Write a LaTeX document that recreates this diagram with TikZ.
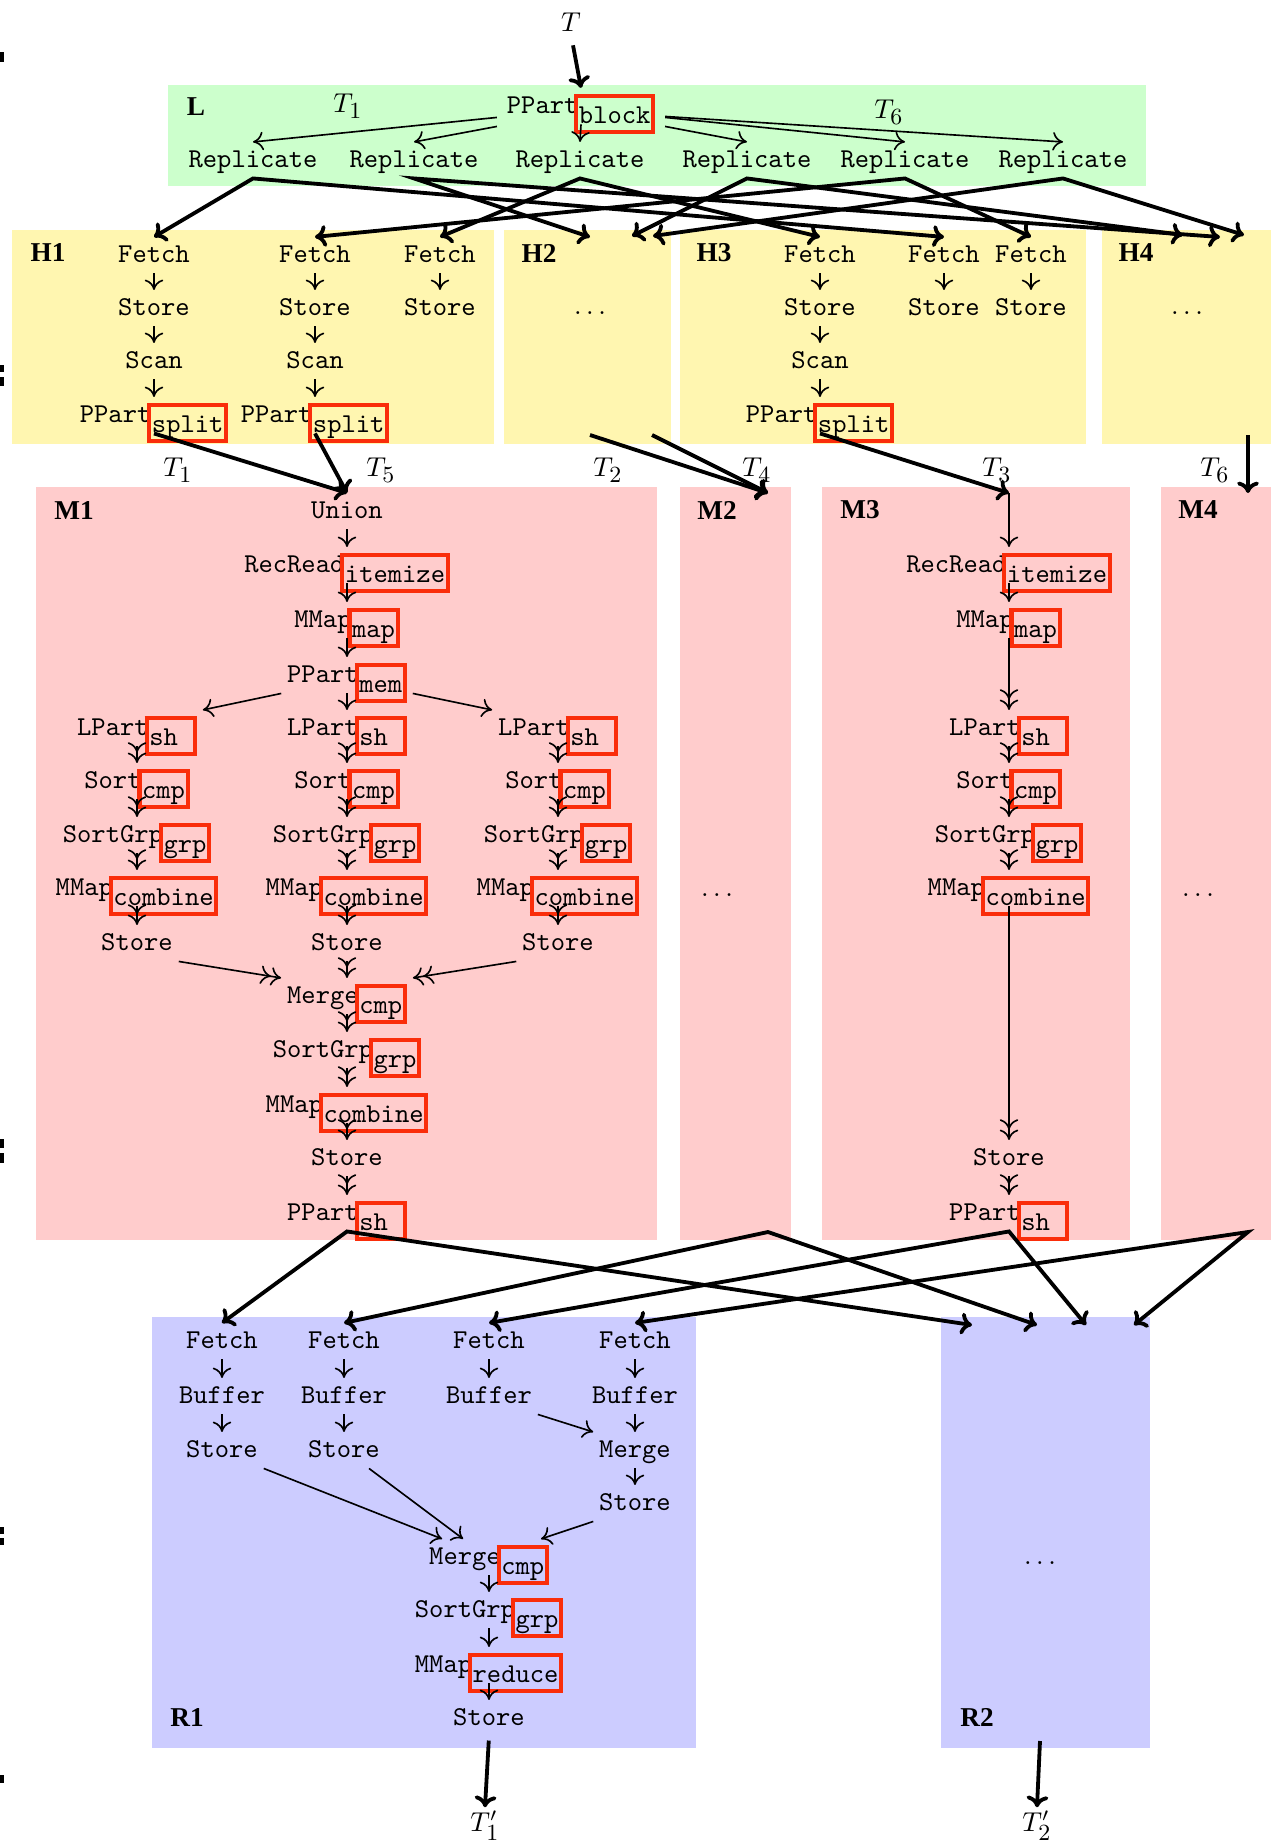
\documentclass[tikz,border=0pt]{standalone}
\usepackage{fontspec}
\usetikzlibrary{arrows.meta,calc}
\newfontfamily\labfont{Liberation Serif}
\definecolor{lgreen}{RGB}{204,255,204}
\definecolor{hyellow}{RGB}{255,246,176}
\definecolor{mpink}{RGB}{255,204,204}
\definecolor{rblue}{RGB}{204,204,255}
\definecolor{pred}{RGB}{250,45,10}
% parameter of an operator, framed in red and set slightly lower
\newcommand\pbox[1]{\hspace{-1.5pt}\raisebox{-3.67pt}{\setlength\fboxsep{0.2pt}\setlength\fboxrule{1.5pt}\color{pred}\fbox{\color{black}\rule[-2.3pt]{0pt}{11.3pt}#1}}}
\newcommand\shbox{\pbox{\makebox[15.75pt][l]{sh}}\hspace{-5.25pt}}
\newcommand\flowdown[3][thin]{\draw[#1] (#2.south) -- (#2.south |- #3.north);}
% table name with a larger subscript
\newcommand\tsub[1]{_{\mbox{\fontsize{8.5pt}{9pt}\selectfont #1}}}

\tikzset{
 op/.style={font=\ttfamily, inner sep=2pt, text height=7pt, text depth=2pt, anchor=base},
 lab/.style={font=\labfont\bfseries, inner sep=1pt},
 tl/.style={inner sep=1pt},
 dotsn/.style={anchor=base, inner sep=0pt},
 thin/.style={line width=0.6pt, -{To[length=3.8pt,width=6.8pt]}},
 dbl/.style={line width=0.6pt, -{To[length=3.8pt,width=6.8pt]To[length=3.8pt,width=6.8pt]}},
 thick/.style={line width=1.4pt, -{To[length=4.2pt,width=8pt]}},
 thickboth/.style={line width=1.4pt, {To[length=4.2pt,width=8pt]}-{To[length=4.2pt,width=8pt]}},
}

\begin{document}
\begin{tikzpicture}[x=0.367pt, y=-0.367pt]
\useasboundingbox (0,0) rectangle (1271,1846);

% coloured areas
\fill[lgreen] (168,85) rectangle (1146,186);
\fill[hyellow] (12,230) rectangle (494,444);
\fill[hyellow] (504,230) rectangle (671,444);
\fill[hyellow] (680,230) rectangle (1086,444);
\fill[hyellow] (1102,230) rectangle (1271,444);
\fill[mpink] (36,487) rectangle (657,1240);
\fill[mpink] (680,487) rectangle (791,1240);
\fill[mpink] (822,487) rectangle (1130,1240);
\fill[mpink] (1161,487) rectangle (1271,1240);
\fill[rblue] (152,1317) rectangle (696,1748);
\fill[rblue] (941,1317) rectangle (1150,1748);

% marks at the left border
\fill (0,52) rectangle (4,62);
\fill (0,365) rectangle (4,372);
\fill (0,377) rectangle (4,386);
\fill (0,1139) rectangle (4,1148);
\fill (0,1153) rectangle (4,1163);
\fill (0,1527) rectangle (4,1534);
\fill (0,1538) rectangle (4,1545);
\fill (0,1775) rectangle (4,1783);

% ---------- L ----------
\node[tl] (tin) at (571,22) {$T$};
\node[lab] (labL) at (196,107) {L};
\node[tl] (tl1) at (348,106) {$T\tsub{1}$};
\node[tl] (tl6) at (889,112) {$T\tsub{6}$};
\node[op] (lpp) at (581,113) {PPart\pbox{block}};
\foreach \i/\x in {1/253,2/414,3/580,4/747,5/905,6/1063}
  \node[op] (rep\i) at (\x,167) {Replicate};

% ---------- H ----------
\node[lab] (labH1) at (48,253) {H1};
\node[lab] (labH2) at (539,253) {H2};
\node[lab] (labH3) at (714,253) {H3};
\node[lab] (labH4) at (1136,253) {H4};
\foreach \c/\x in {1/154,2/315,3/440}{
  \node[op] (h1f\c) at (\x,262) {Fetch};
  \node[op] (h1s\c) at (\x,315) {Store};
}
\node[op] (h1c1) at (154,368) {Scan};
\node[op] (h1c2) at (315,368) {Scan};
\node[op] (h1p1) at (154,422) {PPart\pbox{split}};
\node[op] (h1p2) at (315,422) {PPart\pbox{split}};
\foreach \c/\x in {1/820,2/944,3/1031}{
  \node[op] (h3f\c) at (\x,262) {Fetch};
  \node[op] (h3s\c) at (\x,315) {Store};
}
\node[op] (h3c1) at (820,368) {Scan};
\node[op] (h3p1) at (820,422) {PPart\pbox{split}};
\node[dotsn] (h2dots) at (590,314) {$\dots$};
\node[dotsn] (h4dots) at (1187,314) {$\dots$};
\coordinate (h2a) at (590,237);
\coordinate (h2b) at (632,236);
\coordinate (h2c) at (653,236);
\coordinate (h4a) at (1183,235);
\coordinate (h4b) at (1220,237);
\coordinate (h4c) at (1244,235);
\coordinate (h2o1) at (590,435);
\coordinate (h2o2) at (652,435);
\coordinate (h4o) at (1248,435);

\foreach \c in {1,2,3}{\flowdown{h1f\c}{h1s\c}}
\foreach \c in {1,2}{\flowdown{h1s\c}{h1c\c}\flowdown{h1c\c}{h1p\c}}
\foreach \c in {1,2,3}{\flowdown{h3f\c}{h3s\c}}
\flowdown{h3s1}{h3c1}
\flowdown{h3c1}{h3p1}

% block partitioning and replication
\draw[thick, shorten <=4pt] (tin.south) -- (lpp.north);
\draw[thin] ($(lpp.south west)+(-4,-7)$) -- (rep1.north);
\draw[thin] ($(lpp.south west)+(-4,2)$) -- (rep2.north);
\draw[thin] (lpp.south) -- (rep3.north);
\draw[thin] ($(lpp.south east)+(4,2)$) -- (rep4.north);
\draw[thin] ($(lpp.south east)+(4,-7)$) -- (rep5.north);
\draw[thin] ($(lpp.south east)+(4,-8)$) -- (rep6.north);

\draw[thickboth] (h1f1.north) -- (rep1.south) -- (h3f2.north);
\draw[thickboth] (h2a) -- (rep2.south) -- (h4b);
\draw[thickboth] (h1f3.north) -- (rep3.south) -- (h3f1.north);
\draw[thickboth] (h2b) -- (rep4.south) -- (h4a);
\draw[thickboth] (h1f2.north) -- (rep5.south) -- (h3f3.north);
\draw[thickboth] (h2c) -- (rep6.south) -- (h4c);

% ---------- M ----------
\node[lab] (labM1) at (74,510) {M1};
\node[lab] (labM2) at (717,510) {M2};
\node[lab] (labM3) at (860,510) {M3};
\node[lab] (labM4) at (1198,510) {M4};
\coordinate (m2in) at (768,493);
\coordinate (m3in) at (1009,493);
\coordinate (m4in) at (1248,493);
\node[tl] (th1) at (178,470) {$T\tsub{1}$};
\node[tl] (th5) at (381,470) {$T\tsub{5}$};
\node[tl] (th2) at (608,470) {$T\tsub{2}$};
\node[tl] (th4) at (757,470) {$T\tsub{4}$};
\node[tl] (th3) at (997,470) {$T\tsub{3}$};
\node[tl] (th6) at (1215,470) {$T\tsub{6}$};

\node[op] (mu) at (347,518) {Union};
\node[op] (mrr) at (347,572) {RecRead\pbox{itemize}};
\node[op] (mmap) at (347,627) {MMap\pbox{map}};
\node[op] (mpp) at (347,682) {PPart\pbox{mem}};
\foreach \c/\x in {1/137,2/347,3/558}{
  \node[op] (lp\c) at (\x,735) {LPart\shbox};
  \node[op] (so\c) at (\x,788) {Sort\pbox{cmp}};
  \node[op] (sg\c) at (\x,842) {SortGrp\pbox{grp}};
  \node[op] (mc\c) at (\x,895) {MMap\pbox{combine}};
  \node[op] (st\c) at (\x,950) {Store};
}
\node[op] (mmg) at (347,1003) {Merge\pbox{cmp}};
\node[op] (msg) at (347,1057) {SortGrp\pbox{grp}};
\node[op] (mmc) at (347,1112) {MMap\pbox{combine}};
\node[op] (mst) at (347,1165) {Store};
\node[op] (mpo) at (347,1220) {PPart\shbox};

\node[dotsn] (m2dots) at (717,896) {$\dots$};
\node[dotsn] (m4dots) at (1198,896) {$\dots$};

\node[op] (m3rr) at (1009,572) {RecRead\pbox{itemize}};
\node[op] (m3map) at (1009,627) {MMap\pbox{map}};
\node[op] (m3lp) at (1009,735) {LPart\shbox};
\node[op] (m3so) at (1009,788) {Sort\pbox{cmp}};
\node[op] (m3sg) at (1009,842) {SortGrp\pbox{grp}};
\node[op] (m3mc) at (1009,895) {MMap\pbox{combine}};
\node[op] (m3st) at (1009,1165) {Store};
\node[op] (m3pp) at (1009,1220) {PPart\shbox};

% splits to mappers
\draw[thick] (h1p1.south) -- (mu.north);
\draw[thick] (h1p2.south) -- (mu.north);
\draw[thick] (h2o1) -- (m2in);
\draw[thick] (h2o2) -- (m2in);
\draw[thick] (h3p1.south) -- (m3in);
\draw[thick] (h4o) -- (m4in);

% M1 pipeline
\flowdown{mu}{mrr}
\flowdown{mrr}{mmap}
\flowdown{mmap}{mpp}
\flowdown{mpp}{lp2}
\draw[thin] (mpp.south west) -- (lp1.north east);
\draw[thin] (mpp.south east) -- (lp3.north west);
\foreach \c in {1,2,3}{
  \flowdown[dbl]{so\c}{sg\c}
  \flowdown[dbl]{sg\c}{mc\c}
  \flowdown[dbl]{mc\c}{st\c}
  \draw[dbl] (so\c.north |- lp\c.south) -- (so\c.north);
}
\flowdown[dbl]{st2}{mmg}
\draw[dbl] (st1.south east) -- (mmg.north west);
\draw[dbl] (st3.south west) -- (mmg.north east);
\flowdown[dbl]{mmg}{msg}
\flowdown[dbl]{msg}{mmc}
\flowdown[dbl]{mmc}{mst}
\flowdown[dbl]{mst}{mpo}

% M3 pipeline
\draw[thin] (m3in) -- (m3rr.north);
\flowdown{m3rr}{m3map}
\flowdown[dbl]{m3map}{m3lp}
\draw[dbl] (m3so.north |- m3lp.south) -- (m3so.north);
\flowdown[dbl]{m3so}{m3sg}
\flowdown[dbl]{m3sg}{m3mc}
\flowdown[dbl]{m3mc}{m3st}
\flowdown[dbl]{m3st}{m3pp}

% ---------- R ----------
\node[lab] (labR1) at (187,1717) {R1};
\node[lab] (labR2) at (977,1717) {R2};
\node[dotsn] (r2dots) at (1040,1564) {$\dots$};
\foreach \c/\x in {1/222,2/344,3/489,4/635}{
  \node[op] (rf\c) at (\x,1348) {Fetch};
  \node[op] (rb\c) at (\x,1403) {Buffer};
  \flowdown{rf\c}{rb\c}
}
\node[op] (rs1) at (222,1457) {Store};
\node[op] (rs2) at (344,1457) {Store};
\node[op] (rm4) at (635,1457) {Merge};
\node[op] (rs4) at (635,1510) {Store};
\node[op] (rmg) at (489,1564) {Merge\pbox{cmp}};
\node[op] (rsg) at (489,1617) {SortGrp\pbox{grp}};
\node[op] (rmm) at (489,1672) {MMap\pbox{reduce}};
\node[op] (rst) at (489,1725) {Store};
\node[tl, anchor=base] (to1) at (485,1831) {$T'\tsub{1}$};
\node[tl, anchor=base] (to2) at (1037,1831) {$T'\tsub{2}$};
\coordinate (r2out) at (1040,1741);

\flowdown{rb1}{rs1}
\flowdown{rb2}{rs2}
\flowdown{rb4}{rm4}
\flowdown{rm4}{rs4}
\draw[thin] (rb3.south east) -- (rm4.north west);
\draw[thin] (rs1.south east) -- ($(rmg.north west)+(19,0)$);
\draw[thin] ($(rs2.south)+(25,0)$) -- ($(rmg.north west)+(40,0)$);
\draw[thin] (rs4.south west) -- ($(rmg.north)+(52,0)$);
\flowdown{rmg}{rsg}
\flowdown{rsg}{rmm}
\flowdown{rmm}{rst}
\draw[thick, shorten <=1.5pt] (rst.south) -- (to1.north);
\draw[thick] (r2out) -- (to2.north);

% shuffle from mappers to reducers
\coordinate (m2out) at (768,1232);
\coordinate (m4out) at (1248,1232);
\coordinate (r2a) at (972,1325);
\coordinate (r2b) at (1037,1325);
\coordinate (r2c) at (1086,1325);
\coordinate (r2d) at (1134,1325);
\draw[thickboth] (rf1.north) -- (mpo.south) -- (r2a);
\draw[thickboth] (rf2.north) -- (m2out) -- (r2b);
\draw[thickboth] (rf3.north) -- (m3pp.south) -- (r2c);
\draw[thickboth] (rf4.north) -- (m4out) -- (r2d);
\end{tikzpicture}
\end{document}
